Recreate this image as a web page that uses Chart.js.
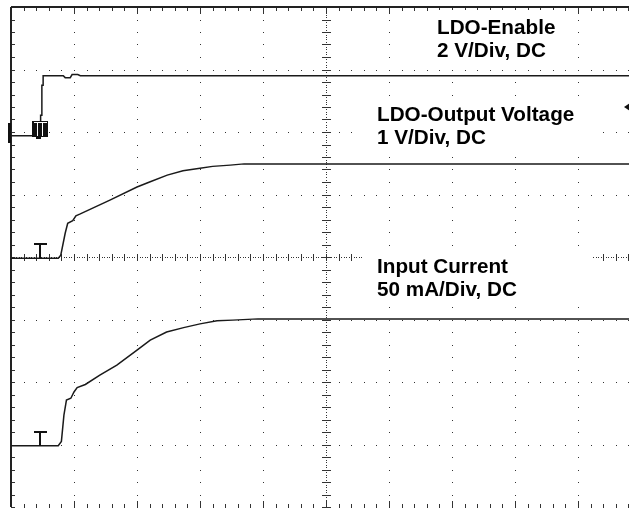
<!DOCTYPE html>
<html>
<head>
<meta charset="utf-8">
<script src="https://cdn.jsdelivr.net/npm/chart.js@4/dist/chart.umd.min.js"></script>
<style>
  html, body { margin: 0; padding: 0; background: #fff; }
  #wrap { width: 629px; height: 508px; overflow: hidden; position: relative; }
  #wrap canvas { display: block; }
</style>
</head>
<body>
<div id="wrap"><canvas id="scope" width="641" height="508"></canvas></div>
<script>
// All values in screen divisions: time 0..10 (left to right), level 0..8 (bottom to top)
const enableTime  = [0, 0.47, 0.47, 0.49, 0.49, 0.51, 0.51, 0.83, 0.86, 0.94, 0.97, 1.06, 1.1, 10];
const enableLevel = [5.94, 5.94, 6.27, 6.27, 6.75, 6.75, 6.9, 6.9, 6.87, 6.87, 6.92, 6.92, 6.9, 6.9];

const voutTime  = [0, 0.75, 0.79, 0.86, 0.9, 0.98, 1.03, 1.1, 1.57, 2.0, 2.2, 2.48, 2.73, 3.0, 3.2, 3.48, 3.7, 10];
const voutLevel = [3.98, 3.98, 4.03, 4.38, 4.54, 4.58, 4.66, 4.69, 4.91, 5.12, 5.2, 5.31, 5.38, 5.42, 5.45, 5.47, 5.49, 5.49];

const iinTime  = [0, 0.75, 0.8, 0.84, 0.88, 0.95, 1.0, 1.05, 1.18, 1.41, 1.68, 2.0, 2.21, 2.47, 2.74, 3.0, 3.27, 3.52, 3.92, 10];
const iinLevel = [0.98, 0.98, 1.05, 1.47, 1.71, 1.74, 1.84, 1.91, 1.96, 2.11, 2.27, 2.51, 2.67, 2.8, 2.87, 2.93, 2.98, 2.99, 3.01, 3.01];

// ground reference levels of each channel, and trigger level
const groundLevels = [5.94, 3.98, 0.98];
const markerTime = 0.46;
const triggerLevel = 6.4;

const channelLabels = [
  ['LDO-Enable', '2 V/Div, DC'],
  ['LDO-Output Voltage', '1 V/Div, DC'],
  ['Input Current', '50 mA/Div, DC']
];

function toPoints(ts, vs) {
  return ts.map((t, i) => ({ x: t, y: vs[i] }));
}

const scopeScreen = {
  id: 'scopeScreen',
  beforeDatasetsDraw(chart) {
    const ctx = chart.ctx;
    const xs = chart.scales.x, ys = chart.scales.y;
    const px = v => Math.round(xs.getPixelForValue(v));
    const py = v => Math.round(ys.getPixelForValue(v));
    ctx.save();
    ctx.fillStyle = '#333';

    // dotted major grid
    for (let j = 0; j <= 8; j++) {
      for (let k = 0; k <= 50; k++) ctx.fillRect(px(k / 5), py(j), 1, 1);
    }
    for (let i = 0; i <= 10; i++) {
      for (let k = 0; k <= 40; k++) ctx.fillRect(px(i), py(k / 5), 1, 1);
    }

    // border ticks
    for (let k = 0; k <= 50; k++) {
      ctx.fillRect(px(k / 5), py(8), 1, 4);
      ctx.fillRect(px(k / 5), py(0) - 3, 1, 4);
    }
    for (let k = 0; k <= 40; k++) ctx.fillRect(px(0), py(k / 5), 4, 1);
    for (let i = 1; i < 10; i++) {
      ctx.fillRect(px(i), py(8), 1, 7);
      ctx.fillRect(px(i), py(0) - 6, 1, 7);
    }

    // center axes with fine dots and minor ticks
    const cx = px(5), cy = py(4);
    for (let k = 0; k <= 200; k++) {
      ctx.fillRect(cx, py(k / 25), 1, 1);
    }
    for (let k = 0; k <= 250; k++) {
      ctx.fillRect(px(k / 25), cy, 1, 1);
    }
    for (let k = 0; k <= 40; k++) ctx.fillRect(cx - 4, py(k / 5), 9, 1);
    for (let k = 0; k <= 50; k++) ctx.fillRect(px(k / 5), cy - 3, 1, 7);

    // solid top and left frame
    ctx.fillStyle = '#222';
    ctx.fillRect(px(0), py(8) - 1, xs.right - xs.left, 2);
    ctx.fillRect(px(0) - 1, py(8), 2, ys.bottom - ys.top);

    // label boxes and text
    const boxes = [
      { x: 430, y: 10, w: 135, h: 56, tx: 437, b1: 34, b2: 57 },
      { x: 358, y: 100, w: 242, h: 52, tx: 377, b1: 121, b2: 144 },
      { x: 362, y: 249, w: 230, h: 56, tx: 377, b1: 273, b2: 296 }
    ];
    ctx.font = 'bold 20.7px "Liberation Sans", Arial, sans-serif';
    ctx.textBaseline = 'alphabetic';
    boxes.forEach((bx, i) => {
      ctx.fillStyle = '#fff';
      ctx.fillRect(bx.x, bx.y, bx.w, bx.h);
      ctx.fillStyle = '#000';
      ctx.fillText(channelLabels[i][0], bx.tx, bx.b1);
      ctx.fillText(channelLabels[i][1], bx.tx, bx.b2);
    });
    ctx.restore();
  },
  afterDatasetsDraw(chart) {
    const ctx = chart.ctx;
    const xs = chart.scales.x, ys = chart.scales.y;
    const mx = Math.round(xs.getPixelForValue(markerTime));
    ctx.save();

    // channel 1 ground marker: filled box with white-outlined T
    const g1 = Math.round(ys.getPixelForValue(groundLevels[0]));
    ctx.fillStyle = '#111';
    ctx.fillRect(mx - 8, g1 - 15, 16, 16);
    ctx.fillRect(mx - 4, g1 + 1, 5, 2);
    ctx.fillStyle = '#fff';
    ctx.fillRect(mx - 6, g1 - 14, 13, 1);
    ctx.fillRect(mx - 3, g1 - 13, 1, 13);
    ctx.fillRect(mx + 2, g1 - 13, 1, 13);

    // channel 1 position bar at left edge
    ctx.fillStyle = '#111';
    ctx.fillRect(Math.round(xs.left) - 3, g1 - 13, 3, 20);

    // plain T ground markers for channels 2 and 3
    ctx.strokeStyle = '#111';
    ctx.lineWidth = 2;
    [groundLevels[1], groundLevels[2]].forEach(lv => {
      const gy = Math.round(ys.getPixelForValue(lv));
      ctx.beginPath();
      ctx.moveTo(mx - 6, gy - 14); ctx.lineTo(mx + 7, gy - 14);
      ctx.moveTo(mx, gy - 14); ctx.lineTo(mx, gy);
      ctx.stroke();
    });

    // trigger level arrow at right edge
    const ty = ys.getPixelForValue(triggerLevel);
    ctx.fillStyle = '#111';
    ctx.beginPath();
    ctx.moveTo(624, ty);
    ctx.lineTo(630, ty - 4);
    ctx.lineTo(630, ty + 4);
    ctx.closePath();
    ctx.fill();
    ctx.restore();
  }
};

const traceStyle = { borderColor: '#1a1a1a', borderWidth: 1.5, pointRadius: 0, fill: false, tension: 0 };

new Chart(document.getElementById('scope').getContext('2d'), {
  type: 'line',
  data: {
    datasets: [
      Object.assign({ label: 'LDO-Enable', data: toPoints(enableTime, enableLevel) }, traceStyle),
      Object.assign({ label: 'LDO-Output Voltage', data: toPoints(voutTime, voutLevel) }, traceStyle),
      Object.assign({ label: 'Input Current', data: toPoints(iinTime, iinLevel) }, traceStyle)
    ]
  },
  options: {
    responsive: false,
    animation: false,
    layout: { padding: { left: 11, top: 7, right: 0, bottom: 1 } },
    scales: {
      x: { type: 'linear', min: 0, max: 10, display: false },
      y: { type: 'linear', min: 0, max: 8, display: false }
    },
    plugins: { legend: { display: false }, tooltip: { enabled: false } }
  },
  plugins: [scopeScreen]
});
</script>
</body>
</html>
